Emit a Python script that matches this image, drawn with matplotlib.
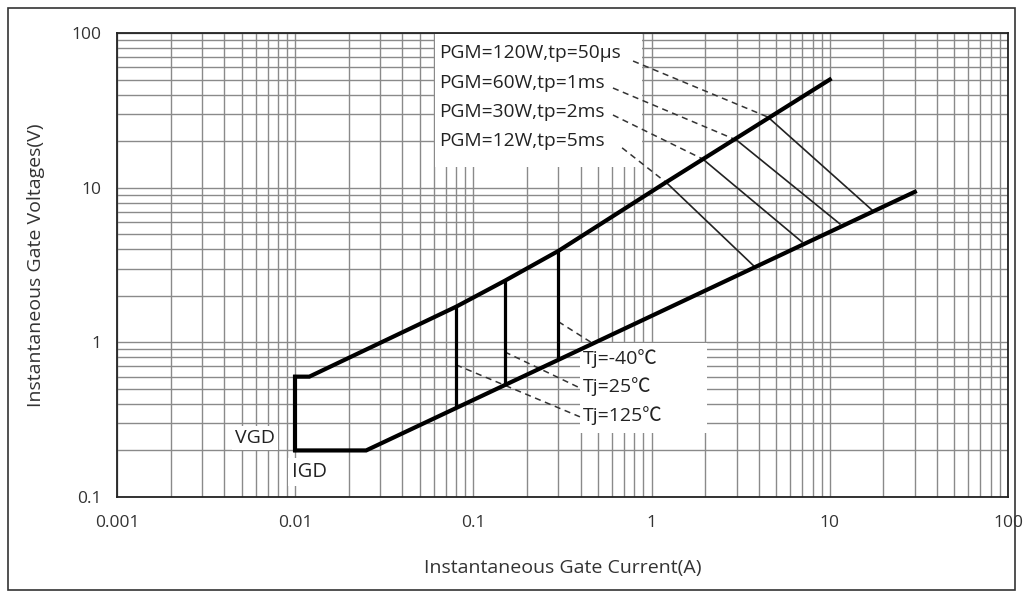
import numpy as np
import matplotlib
matplotlib.use("Agg")
import matplotlib.pyplot as plt
from matplotlib.patches import Rectangle
from matplotlib.ticker import LogLocator, FixedLocator, FixedFormatter, NullFormatter

plt.rcParams['font.family'] = ['Open Sans', 'Noto Sans CJK SC', 'DejaVu Sans']

# boundary curves (I in A, V in V)
upper_i = [0.01, 0.012, 0.08, 0.15, 0.3, 1.2, 10]
upper_v = [0.6, 0.6, 1.7, 2.5, 3.9, 10.8, 50]
lower_i = [0.01, 0.025, 30]
lower_v = [0.2, 0.2, 9.4]
vgd_i = [0.01, 0.01]
vgd_v = [0.2, 0.6]

# temperature verticals
tj_i = [0.08, 0.15, 0.3]
tj_lo = [0.377, 0.527, 0.777]
tj_hi = [1.7, 2.5, 3.9]
tj_labels = ["Tj=125℃", "Tj=25℃", "Tj=-40℃"]

# peak gate power lines (upper point, lower point)
pgm_labels = ["PGM=12W,tp=5ms", "PGM=30W,tp=2ms", "PGM=60W,tp=1ms", "PGM=120W,tp=50µs"]
pgm_i1 = [1.22, 1.94, 3.0, 4.5]
pgm_v1 = [10.7, 15.3, 20.3, 28.6]
pgm_i2 = [3.8, 6.98, 11.4, 17.5]
pgm_v2 = [3.07, 4.46, 5.83, 7.07]

x_ticks = [0.001, 0.01, 0.1, 1, 10, 100]
x_labels = ["0.001", "0.01", "0.1", "1", "10", "100"]
y_ticks = [0.1, 1, 10, 100]
y_labels = ["0.1", "1", "10", "100"]

fig = plt.figure(figsize=(10.23, 5.97), dpi=100)
ax = fig.add_axes([0.1144, 0.1675, 0.8709, 0.7772])
ax.set_xscale("log")
ax.set_yscale("log")
ax.set_xlim(0.001, 100)
ax.set_ylim(0.1, 100)

ax.xaxis.set_major_locator(FixedLocator(x_ticks))
ax.xaxis.set_major_formatter(FixedFormatter(x_labels))
ax.yaxis.set_major_locator(FixedLocator(y_ticks))
ax.yaxis.set_major_formatter(FixedFormatter(y_labels))
ax.xaxis.set_minor_locator(LogLocator(base=10, subs=np.arange(2, 10)))
ax.yaxis.set_minor_locator(LogLocator(base=10, subs=np.arange(2, 10)))
ax.xaxis.set_minor_formatter(NullFormatter())
ax.yaxis.set_minor_formatter(NullFormatter())
ax.tick_params(which="both", length=0, labelsize=12.5, labelcolor="#333333")
ax.tick_params(axis="x", pad=13)
ax.tick_params(axis="y", pad=11)
ax.set_axisbelow(True)
ax.grid(which="both", color="#8a8a8a", linewidth=1.0)
for s in ax.spines.values():
    s.set_color("#222222")
    s.set_linewidth(1.3)

ax.set_xlabel("Instantaneous Gate Current(A)", fontsize=14, color="#333333", labelpad=20)
ax.set_ylabel("Instantaneous Gate Voltages(V)", fontsize=14, color="#333333", labelpad=19)

# white label areas hiding the grid
ax.add_patch(Rectangle((0.061, 13.6), 0.88 - 0.061, 98 - 13.6, facecolor="white", edgecolor="none", zorder=1))
ax.add_patch(Rectangle((0.396, 0.26), 2.05 - 0.396, 0.99 - 0.26, facecolor="white", edgecolor="none", zorder=1))

# boundaries
ax.plot(upper_i, upper_v, color="black", lw=3.0, solid_joinstyle="miter", zorder=4)
ax.plot(lower_i, lower_v, color="black", lw=3.0, solid_joinstyle="miter", zorder=4)
ax.plot(vgd_i, vgd_v, color="black", lw=3.0, zorder=4)
ax.vlines(tj_i, tj_lo, tj_hi, color="black", lw=2.3, zorder=4)

for i in range(len(pgm_labels)):
    ax.plot([pgm_i1[i], pgm_i2[i]], [pgm_v1[i], pgm_v2[i]], color="#222222", lw=1.2, zorder=3)

# PGM labels and leaders
pgm_text_y = [20.0, 30.8, 47.5, 74.2]
pgm_lead_x = [0.683, 0.607, 0.607, 0.787]
pgm_lead_y = [18.1, 29.5, 44.1, 65.9]
for i in range(len(pgm_labels)):
    ax.text(0.064, pgm_text_y[i], pgm_labels[i], fontsize=13.8, color="#222222", va="center", ha="left", zorder=5)
    ax.plot([pgm_lead_x[i], pgm_i1[i]], [pgm_lead_y[i], pgm_v1[i]], color="#333333", lw=1.1,
            ls=(0, (4, 3)), zorder=3)

# Tj labels and leaders
tj_text_y = [0.334, 0.515, 0.79]
tj_lead_x = [0.396, 0.396, 0.464]
tj_lead_y = [0.33, 0.507, 0.99]
tj_start_v = [0.715, 0.867, 1.36]
for i in range(len(tj_labels)):
    ax.text(0.412, tj_text_y[i], tj_labels[i], fontsize=14, color="#222222", va="center", ha="left", zorder=5)
    ax.plot([tj_i[i], tj_lead_x[i]], [tj_start_v[i], tj_lead_y[i]], color="#333333", lw=1.1,
            ls=(0, (4, 3)), zorder=3)

ax.text(0.00595, 0.241, "VGD", fontsize=14, color="#222222", ha="center", va="center", zorder=5,
        bbox=dict(facecolor="white", edgecolor="none", pad=2))
ax.text(0.0121, 0.145, "IGD", fontsize=14.5, color="#222222", ha="center", va="center", zorder=5,
        bbox=dict(facecolor="white", edgecolor="none", pad=3))

# outer frame around the whole picture
fig.patches.append(Rectangle((8 / 1023, 7 / 597), 1007 / 1023, 582 / 597, transform=fig.transFigure,
                             fill=False, edgecolor="#333333", lw=1.2))

fig.savefig("out.png", dpi=100)
